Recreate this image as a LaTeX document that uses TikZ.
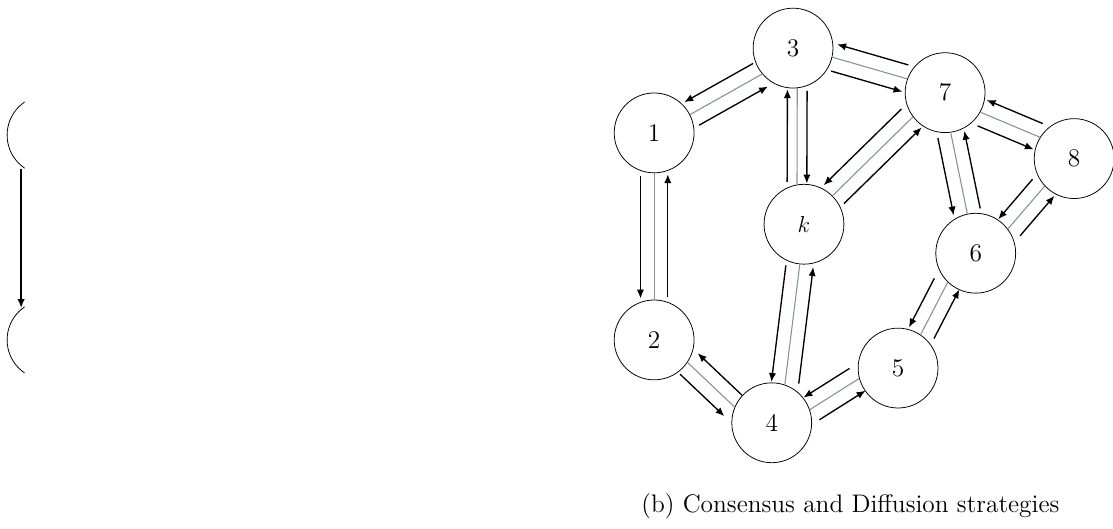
\documentclass[tikz,border=0pt]{standalone}
\usetikzlibrary{calc,arrows.meta}
\definecolor{edgegray}{RGB}{125,148,148}
\tikzset{
  vtx/.style={circle,draw,minimum size=1.46cm,inner sep=0pt,font=\fontsize{13.2}{16}\selectfont},
  gline/.style={edgegray,line width=0.55pt},
  arr/.style={->,line width=0.7pt,shorten <=0.05cm,shorten >=0.02cm},
}
% gray link plus one arrow each way, offset by #1
\newcommand{\twoway}[5][0.25cm]{%
  \draw[gline] (#2.#3) -- (#4.#5);
  \draw[arr] ($(#2.#3)!#1!-90:(#4.#5)$) -- ($(#4.#5)!#1!90:(#2.#3)$);
  \draw[arr] ($(#4.#5)!#1!-90:(#2.#3)$) -- ($(#2.#3)!#1!90:(#4.#5)$);
}
\begin{document}
\begin{tikzpicture}[>={Latex[length=4.6pt,width=3.8pt]}]
  \useasboundingbox (0,0) rectangle (20.35,9.67);
  % what is left of (a)
  \begin{scope}
    \clip (0,0) rectangle (0.45,9.67);
    \node[vtx] (a1) at (0.86,7.20) {};
    \node[vtx] (a2) at (0.86,3.455) {};
    \draw[arr] (a1.230) -- (a2.130);
  \end{scope}
  % (b)
  \node[vtx] (1) at (11.96,7.24) {1};
  \node[vtx] (2) at (11.96,3.455) {2};
  \node[vtx] (3) at (14.50,8.79) {3};
  \node[vtx] (k) at (14.70,5.57) {$k$};
  \node[vtx] (7) at (17.28,7.976) {7};
  \node[vtx] (8) at (19.64,6.77) {8};
  \node[vtx] (6) at (17.84,5.04) {6};
  \node[vtx] (5) at (16.42,2.94) {5};
  \node[vtx] (4) at (14.11,1.94) {4};
  \twoway{1}{270}{2}{90}
  \twoway{1}{27.5}{3}{220}
  \twoway{3}{347.3}{7}{160.6}
  \twoway[-0.18cm]{3}{276}{k}{100}
  \twoway{7}{217}{k}{45}
  \twoway{7}{331}{8}{148}
  \twoway{7}{278}{6}{102}
  \twoway{8}{223}{6}{37}
  \twoway{6}{226}{5}{56.5}
  \twoway{5}{195}{4}{19}
  \twoway{4}{157}{2}{326}
  \twoway{4}{71}{k}{264}
  \node[anchor=base west,inner sep=0pt,font=\fontsize{13.2}{16}\selectfont] (cap) at (11.72,0.30) {(b) Consensus and Diffusion strategies};
\end{tikzpicture}
\end{document}
